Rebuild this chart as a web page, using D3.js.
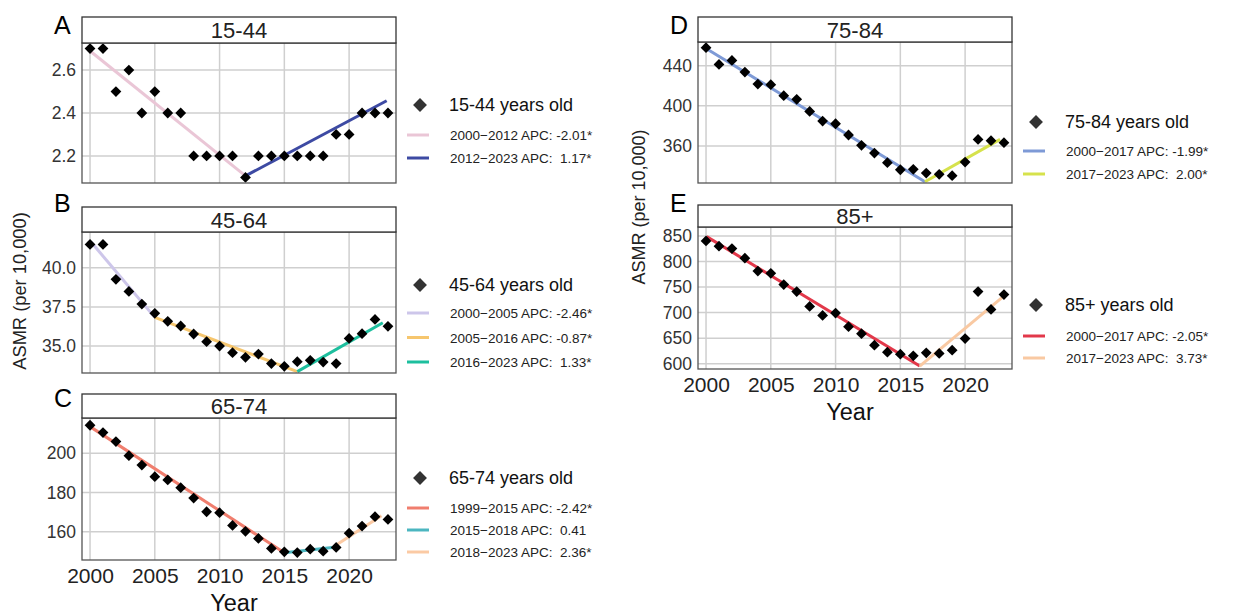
<!DOCTYPE html>
<html>
<head>
<meta charset="utf-8">
<script src="https://cdn.jsdelivr.net/npm/d3@7"></script>
<style>
body { margin: 0; background: #fff; }
text { font-family: Arial, "Liberation Sans", sans-serif; }
</style>
</head>
<body>
<svg id="chart" width="1234" height="615"></svg>
<script>
// data
var years = d3.range(2000, 2024);

var asmr1544 = [2.7, 2.7, 2.5, 2.6, 2.4, 2.5, 2.4, 2.4, 2.2, 2.2, 2.2, 2.2,
	2.1, 2.2, 2.2, 2.2, 2.2, 2.2, 2.2, 2.3, 2.3, 2.4, 2.4, 2.4];
var asmr4564 = [41.49, 41.49, 39.26, 38.49, 37.68, 37.09, 36.58, 36.28, 35.77, 35.28, 35.0, 34.58,
	34.28, 34.49, 33.88, 33.71, 34.0, 34.09, 33.98, 33.88, 35.49, 35.79, 36.70, 36.26];
var asmr6574 = [214.3, 210.6, 206.0, 198.8, 194.0, 188.1, 186.4, 182.5, 177.2, 170.2, 169.7, 163.2,
	160.2, 156.6, 151.5, 149.8, 149.4, 151.1, 150.1, 152.0, 159.3, 162.9, 167.7, 166.3];
var asmr7584 = [457.9, 441.3, 445.3, 433.7, 421.7, 421.1, 410.1, 406.5, 394.5, 384.9, 382.2, 371.0,
	360.7, 353.0, 343.4, 336.4, 336.8, 333.1, 331.8, 330.5, 344.1, 366.6, 365.3, 363.3];
var asmr85 = [840.3, 829.9, 825.4, 806.6, 781.3, 776.8, 754.8, 741.2, 712.0, 694.6, 699.1, 672.5,
	658.9, 636.3, 622.7, 618.8, 615.5, 621.4, 620.1, 626.6, 649.2, 741.2, 706.2, 735.4];

// joinpoint segments: [startYear, startValue, endYear, endValue]
var trend1544 = [[2000.1, 2.684, 2012, 2.107], [2012, 2.107, 2022.9, 2.457]];
var trend4564 = [[2000.1, 41.62, 2005, 36.83], [2005, 36.83, 2016, 33.37], [2016, 33.37, 2022.6, 36.49]];
var trend6574 = [[2000, 213.6, 2015, 149.3], [2015, 149.3, 2018.7, 152.0], [2019, 153.2, 2022.5, 168.2]];
var trend7584 = [[2000.1, 456.3, 2016.9, 324.5], [2016.9, 324.5, 2022.7, 366.6]];
var trend85 = [[2000.05, 848.7, 2016.5, 595.5], [2016.5, 595.5, 2023.1, 734.7]];

var labels1544 = ['2000\u22122012 APC: -2.01*', '2012\u22122023 APC:  1.17*'];
var labels4564 = ['2000\u22122005 APC: -2.46*', '2005\u22122016 APC: -0.87*', '2016\u22122023 APC:  1.33*'];
var labels6574 = ['1999\u22122015 APC: -2.42*', '2015\u22122018 APC:  0.41', '2018\u22122023 APC:  2.36*'];
var labels7584 = ['2000\u22122017 APC: -1.99*', '2017\u22122023 APC:  2.00*'];
var labels85 = ['2000\u22122017 APC: -2.05*', '2017\u22122023 APC:  3.73*'];

var colors1544 = ['#eac6d6', '#3d4aa3'];
var colors4564 = ['#cdc6ea', '#f6c66e', '#1dbf9e'];
var colors6574 = ['#f07e6e', '#4cb6c0', '#fbcaa4'];
var colors7584 = ['#7e9ad6', '#d6e24c'];
var colors85 = ['#e2384a', '#f9c9a2'];

var xTicks = [2000, 2005, 2010, 2015, 2020];

var panels = [
	{ letter: 'A', title: '15-44', group: '15-44 years old', values: asmr1544, trend: trend1544,
		labels: labels1544, colors: colors1544, yDomain: [2.074, 2.726], yTicks: [2.2, 2.4, 2.6], fmt: '.1f',
		left: 82, right: 396, stripTop: 17, top: 43, bottom: 183, letterY: 34,
		legX: 420, legY: 105, legStep: 23, legGap: 30, xAxis: false },
	{ letter: 'B', title: '45-64', group: '45-64 years old', values: asmr4564, trend: trend4564,
		labels: labels4564, colors: colors4564, yDomain: [33.28, 42.28], yTicks: [35, 37.5, 40], fmt: '.1f',
		left: 82, right: 396, stripTop: 207, top: 232, bottom: 373, letterY: 212,
		legX: 420, legY: 285, legStep: 24.5, legGap: 28, xAxis: false },
	{ letter: 'C', title: '65-74', group: '65-74 years old', values: asmr6574, trend: trend6574,
		labels: labels6574, colors: colors6574, yDomain: [145.6, 218], yTicks: [160, 180, 200], fmt: 'd',
		left: 82, right: 396, stripTop: 394, top: 418, bottom: 560, letterY: 407,
		legX: 420, legY: 478, legStep: 22, legGap: 30, xAxis: true },
	{ letter: 'D', title: '75-84', group: '75-84 years old', values: asmr7584, trend: trend7584,
		labels: labels7584, colors: colors7584, yDomain: [323.2, 463.6], yTicks: [360, 400, 440], fmt: 'd',
		left: 698, right: 1012, stripTop: 17, top: 42, bottom: 183, letterY: 34,
		legX: 1036, legY: 122, legStep: 23, legGap: 29, xAxis: false },
	{ letter: 'E', title: '85+', group: '85+ years old', values: asmr85, trend: trend85,
		labels: labels85, colors: colors85, yDomain: [589.7, 867.5], yTicks: [600, 650, 700, 750, 800, 850], fmt: 'd',
		left: 698, right: 1012, stripTop: 205, top: 227, bottom: 369, letterY: 212,
		legX: 1036, legY: 305, legStep: 22, legGap: 31, xAxis: true }
];

var svg = d3.select('#chart');
var diamond = d3.symbol().type(d3.symbolSquare).size(58)();
var bigDiamond = d3.symbol().type(d3.symbolSquare).size(96)();

panels.forEach(function(p) {
	var x = d3.scaleLinear().domain([1999.38, 2023.62]).range([p.left, p.right]);
	var y = d3.scaleLinear().domain(p.yDomain).range([p.bottom, p.top]);
	var g = svg.append('g');

	// grid
	g.selectAll('line.vg').data(xTicks).enter().append('line')
		.attr('x1', function(d) { return x(d); })
		.attr('x2', function(d) { return x(d); })
		.attr('y1', p.top).attr('y2', p.bottom)
		.style('stroke', '#cfcfcf').style('stroke-width', 1.5);
	g.selectAll('line.hg').data(p.yTicks).enter().append('line')
		.attr('x1', p.left).attr('x2', p.right)
		.attr('y1', function(d) { return y(d); })
		.attr('y2', function(d) { return y(d); })
		.style('stroke', '#cfcfcf').style('stroke-width', 1.5);

	// trend segments
	g.selectAll('line.seg').data(p.trend).enter().append('line')
		.attr('x1', function(d) { return x(d[0]); })
		.attr('y1', function(d) { return y(d[1]); })
		.attr('x2', function(d) { return x(d[2]); })
		.attr('y2', function(d) { return y(d[3]); })
		.style('stroke', function(d, i) { return p.colors[i]; })
		.style('stroke-width', 3);

	// points
	g.selectAll('path.pt').data(p.values).enter().append('path')
		.attr('d', diamond)
		.attr('transform', function(d, i) {
			return 'translate(' + x(years[i]) + ',' + y(d) + ') rotate(45)';
		})
		.style('fill', '#000');

	// frame + strip
	g.append('rect')
		.attr('x', p.left).attr('y', p.top)
		.attr('width', p.right - p.left).attr('height', p.bottom - p.top)
		.style('fill', 'none').style('stroke', '#555').style('stroke-width', 1.3);
	g.append('rect')
		.attr('x', p.left).attr('y', p.stripTop)
		.attr('width', p.right - p.left).attr('height', p.top - p.stripTop)
		.style('fill', '#fff').style('stroke', '#333').style('stroke-width', 1.3);
	g.append('text')
		.attr('x', (p.left + p.right) / 2).attr('y', (p.stripTop + p.top) / 2 + 8)
		.attr('text-anchor', 'middle')
		.style('font-size', '22px').style('fill', '#222')
		.text(p.title);
	g.append('text')
		.attr('x', p.left - 28).attr('y', p.letterY)
		.style('font-size', '25px').style('fill', '#000')
		.text(p.letter);

	// y tick labels
	var yAxis = d3.axisLeft(y).tickValues(p.yTicks).tickSize(0).tickPadding(6)
		.tickFormat(d3.format(p.fmt));
	var ya = g.append('g').attr('transform', 'translate(' + p.left + ',0)').call(yAxis);
	ya.select('.domain').remove();
	ya.selectAll('text').style('font-size', '17.5px').style('fill', '#333')
		.style('font-family', 'Arial, "Liberation Sans", sans-serif');

	if (p.xAxis) {
		var xAxis = d3.axisBottom(x).tickValues(xTicks).tickSize(0).tickPadding(8)
			.tickFormat(d3.format('d'));
		var xa = g.append('g').attr('transform', 'translate(0,' + p.bottom + ')').call(xAxis);
		xa.select('.domain').remove();
		xa.selectAll('text').style('font-size', '21px').style('fill', '#222')
			.style('font-family', 'Arial, "Liberation Sans", sans-serif');
		g.append('text')
			.attr('x', (p.left + p.right) / 2 - 5).attr('y', p.bottom + 51)
			.attr('text-anchor', 'middle')
			.style('font-size', '23.5px').style('fill', '#111')
			.text('Year');
	}

	// legend
	var leg = g.append('g');
	leg.append('path')
		.attr('d', bigDiamond)
		.attr('transform', 'translate(' + p.legX + ',' + p.legY + ') rotate(45)')
		.style('fill', '#333');
	leg.append('text')
		.attr('x', p.legX + 29).attr('y', p.legY + 6)
		.style('font-size', '18px').style('fill', '#111')
		.text(p.group);
	p.labels.forEach(function(lab, i) {
		var ly = p.legY + p.legGap + i * p.legStep;
		leg.append('line')
			.attr('x1', p.legX - 13).attr('x2', p.legX + 9)
			.attr('y1', ly).attr('y2', ly)
			.style('stroke', p.colors[i]).style('stroke-width', 3);
		leg.append('text')
			.attr('x', p.legX + 30).attr('y', ly + 5)
			.style('font-size', '13.5px').style('fill', '#222')
			.style('white-space', 'pre')
			.text(lab);
	});
});

// shared y titles
svg.append('text')
	.attr('transform', 'translate(26,291) rotate(-90)')
	.attr('text-anchor', 'middle')
	.style('font-size', '18.3px').style('fill', '#222')
	.text('ASMR (per 10,000)');
svg.append('text')
	.attr('transform', 'translate(645,207) rotate(-90)')
	.attr('text-anchor', 'middle')
	.style('font-size', '18px').style('fill', '#222')
	.text('ASMR (per 10,000)');
</script>
</body>
</html>
